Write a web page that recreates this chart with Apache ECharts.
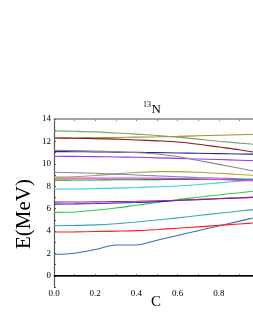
<!DOCTYPE html>
<html><head><meta charset="utf-8">
<script src="https://cdn.jsdelivr.net/npm/echarts@6/dist/echarts.min.js"></script>
<style>html,body{margin:0;padding:0;background:#fff}#c{width:253px;height:327px}</style>
</head><body><div id="c"></div>
<script>
const C = [0, 0.1, 0.2, 0.3, 0.4, 0.5, 0.6, 0.7, 0.8, 0.9, 1.0];
const yTicks = [0, 2, 4, 6, 8, 10, 12, 14];
const xTicks = [0.0, 0.2, 0.4, 0.6, 0.8];
const s_black   = [0, 0, 0, 0, 0, 0, 0, 0, 0, 0, 0];
const s_steel   = [1.92, 2.02, 2.35, 2.75, 2.75, 3.18, 3.6, 4.03, 4.45, 4.88, 5.3];
const s_red     = [3.91, 3.92, 3.95, 3.99, 4.03, 4.13, 4.25, 4.37, 4.5, 4.63, 4.75];
const s_teal    = [4.47, 4.5, 4.55, 4.65, 4.8, 4.98, 5.17, 5.38, 5.58, 5.78, 5.98];
const s_green   = [5.66, 5.7, 5.85, 6.05, 6.3, 6.55, 6.8, 7.02, 7.22, 7.42, 7.62];
const s_blue    = [6.4, 6.42, 6.45, 6.5, 6.55, 6.62, 6.72, 6.8, 6.88, 6.95, 7.02];
const s_crimson = [6.58, 6.59, 6.6, 6.62, 6.65, 6.7, 6.75, 6.82, 6.9, 6.97, 7.05];
const s_cyan    = [7.74, 7.75, 7.78, 7.83, 7.88, 7.95, 8.02, 8.15, 8.3, 8.45, 8.58];
const s_dgreen  = [8.54, 8.55, 8.56, 8.57, 8.58, 8.59, 8.6, 8.6, 8.6, 8.6, 8.6];
const s_magenta = [8.72, 8.72, 8.72, 8.72, 8.72, 8.72, 8.7, 8.66, 8.6, 8.52, 8.45];
const s_olive   = [8.81, 8.85, 8.95, 9.1, 9.22, 9.3, 9.3, 9.25, 9.15, 9.05, 8.95];
const s_lav     = [9.25, 9.2, 9.15, 9.08, 9.0, 8.92, 8.85, 8.78, 8.72, 8.67, 8.62];
const s_violet  = [10.67, 10.66, 10.64, 10.61, 10.58, 10.53, 10.48, 10.43, 10.38, 10.32, 10.25];
const s_navy    = [11.09, 11.08, 11.06, 11.04, 11.02, 11.0, 10.97, 10.94, 10.91, 10.88, 10.85];
const s_gray    = [11.2, 11.18, 11.14, 11.08, 11.0, 10.88, 10.65, 10.3, 9.95, 9.6, 9.25];
const s_yolive  = [12.3, 12.31, 12.32, 12.35, 12.38, 12.41, 12.45, 12.5, 12.55, 12.6, 12.65];
const s_brown   = [12.3, 12.28, 12.25, 12.2, 12.13, 12.05, 11.95, 11.75, 11.5, 11.25, 10.95];
const s_sage    = [12.93, 12.9, 12.85, 12.75, 12.65, 12.53, 12.38, 12.2, 12.02, 11.85, 11.7];

const seriesDefs = [
  [s_black, '#000000', 1.5],
  [s_steel, '#3a6db5', 1.1],
  [s_red, '#ff2020', 1.1],
  [s_teal, '#3aa8a8', 1.1],
  [s_green, '#33cc44', 1.1],
  [s_blue, '#1a1aee', 1.1],
  [s_crimson, '#c02060', 1.1],
  [s_cyan, '#40d0d0', 1.1],
  [s_dgreen, '#119911', 1.1],
  [s_magenta, '#ff30ff', 1.1],
  [s_olive, '#a8a830', 1.1],
  [s_lav, '#7f7fc8', 1.1],
  [s_violet, '#9933ff', 1.1],
  [s_navy, '#28288e', 1.1],
  [s_gray, '#8a8a8a', 1.1],
  [s_yolive, '#999920', 1.1],
  [s_brown, '#8b1a1a', 1.1],
  [s_sage, '#80a070', 1.1]
];

const font = 'Liberation Serif';
const chart = echarts.init(document.getElementById('c'), null, {renderer: 'canvas'});
const xmax = 0.966;
chart.setOption({
  animation: false,
  grid: {left: 54, top: 119, right: 0, bottom: 40, containLabel: false},
  xAxis: [{
    type: 'value', min: 0, max: xmax, interval: 0.1,
    axisLine: {lineStyle: {color: '#888', width: 1.5}},
    axisTick: {inside: true, length: 2, lineStyle: {color: '#888'}},
    splitLine: {show: false},
    axisLabel: {
      color: '#000', fontFamily: font, fontSize: 9, margin: 2, showMaxLabel: false,
      formatter: v => xTicks.some(t => Math.abs(t - v) < 1e-6) ? v.toFixed(1) : ''
    }
  }, {
    type: 'value', min: 0, max: xmax, interval: 0.1, position: 'top',
    axisLine: {lineStyle: {color: '#888', width: 1.5}},
    axisTick: {inside: true, length: 2, lineStyle: {color: '#888'}},
    axisLabel: {show: false}, splitLine: {show: false}
  }],
  yAxis: {
    type: 'value', min: -1, max: 14, interval: 1,
    axisLine: {lineStyle: {color: '#555', width: 1.2}},
    axisTick: {inside: true, length: 2, lineStyle: {color: '#555'}},
    splitLine: {show: false},
    axisLabel: {
      color: '#000', fontFamily: font, fontSize: 9, margin: 3,
      formatter: v => yTicks.includes(v) ? String(v) : ''
    }
  },
  graphic: [
    {type: 'text', left: 143, top: 100.5, style: {text: '13', fontFamily: font, fontSize: 8, fill: '#000'}},
    {type: 'text', left: 151.5, top: 103.5, style: {text: 'N', fontFamily: font, fontSize: 13, fill: '#000'}},
    {type: 'text', x: 24.5, y: 214, rotation: Math.PI / 2,
     style: {text: 'E(MeV)', fontFamily: font, fontSize: 21, fill: '#000', align: 'center', verticalAlign: 'middle'}},
    {type: 'text', x: 156, y: 302, style: {text: 'C', fontFamily: font, fontSize: 15, fill: '#000', align: 'center', verticalAlign: 'middle'}}
  ],
  series: seriesDefs.map(([arr, color, w]) => ({
    type: 'line', xAxisIndex: 0, showSymbol: false, smooth: 0.3, clip: true,
    data: C.map((c, i) => [c, arr[i]]),
    lineStyle: {color: color, width: w}, itemStyle: {color: color}
  }))
});
</script></body></html>
